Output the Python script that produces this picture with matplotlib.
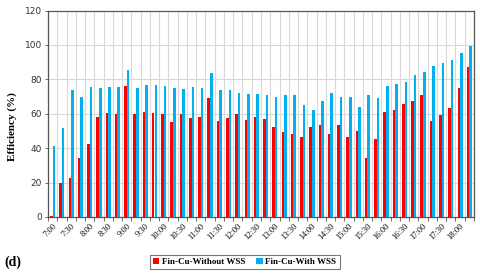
import matplotlib
matplotlib.use("Agg")
import matplotlib.pyplot as plt
import numpy as np

times = [f"{h}:{m:02d}" for h in range(7, 19) for m in (0, 15, 30, 45)][:46]
without_wss = [0.8, 20, 22.7, 34.4, 42.3, 58, 60.4, 59.6, 76.1, 60, 61,
               60.4, 60, 55.5, 59.6, 57.5, 58.3, 69.1, 55.9, 57.5, 59.6, 56.3,
               57.9, 57.1, 52.4, 49.5, 48, 46.4, 52.4, 53.6, 48.3, 53.6, 46.4,
               49.9, 34.4, 45.2, 61.2, 61.9, 65.6, 67.2, 70.9, 55.9, 59.2,
               63.5, 75.1, 87.2]
with_wss = [41.5, 52, 74, 70, 75.7, 75.1, 75.7, 75.7, 85.6, 75.1, 76.5,
            76.5, 76.1, 74.8, 74.4, 75.5, 75.1, 83.7, 73.6, 73.6, 72.2, 71.5,
            71.5, 71.1, 69.9, 71.1, 71.1, 65.2, 61.9, 67.6, 72.2, 69.5, 69.9,
            63.9, 71.1, 69.1, 76.3, 77.1, 78.6, 82.3, 84.3, 87.6, 89.5, 91.5,
            95.5, 99.2]
yticks = [0, 20, 40, 60, 80, 100, 120]
series_names = ["Fin-Cu-Without WSS", "Fin-Cu-With WSS"]

RED = "#FF0000"
BLUE = "#00B0F0"
SERIF = ["Liberation Serif", "DejaVu Serif"]
SANS = ["DejaVu Sans"]

fig = plt.figure(figsize=(4.8, 2.76), dpi=100)
ax = fig.add_axes([0.100, 0.2138, 0.8875, 0.748])

x = np.arange(len(times))
w = 0.28
ax.bar(x - 0.14, without_wss, width=w, color=RED, label=series_names[0], zorder=3)
ax.bar(x + 0.14, with_wss, width=w, color=BLUE, label=series_names[1], zorder=3)

ax.set_xlim(-0.5, len(times) - 0.5)
ax.set_ylim(0, 120)
ax.set_yticks(yticks)
ax.set_yticklabels([str(v) for v in yticks], fontsize=6.5, family=SANS, color="#333333")

# category boundaries as gridlines / ticks
bounds = np.arange(-0.5, len(times) + 0.5, 1.0)
for b in bounds[1:-1]:
    ax.axvline(b, color="#D9D9D9", lw=0.8, zorder=1)
for yv in yticks[1:-1]:
    ax.axhline(yv, color="#D9D9D9", lw=0.8, zorder=1)

ax.set_xticks(bounds, minor=True)
ax.tick_params(axis="x", which="minor", length=3, width=0.6, color="#555555")
ax.set_xticks(x[::2])
ax.set_xticklabels(times[::2], rotation=45, ha="right", rotation_mode="anchor",
                   fontsize=6, family=SERIF)
ax.tick_params(axis="x", which="major", length=0, pad=3.5)
ax.tick_params(axis="y", length=2.5, width=0.6, color="#555555", pad=2)

for s in ax.spines.values():
    s.set_color("#555555")
    s.set_linewidth(0.9)

ax.set_ylabel("Efficiency (%)", fontsize=8, family=SERIF, fontweight="bold")
ax.yaxis.set_label_coords(-0.073, 0.44)

fig.text(0.01, 0.05, "(d)", fontsize=10, family=SERIF, fontweight="bold", va="center")

leg = fig.legend(loc="center", bbox_to_anchor=(0.510, 0.051), ncol=2, frameon=True,
                 prop={"family": SERIF, "weight": "bold", "size": 6.5},
                 handlelength=0.7, handleheight=0.7, handletextpad=0.3,
                 columnspacing=1.2, borderpad=0.35, fancybox=False)
leg.get_frame().set_edgecolor("#555555")
leg.get_frame().set_linewidth(0.8)

fig.savefig("out.png", dpi=100)
